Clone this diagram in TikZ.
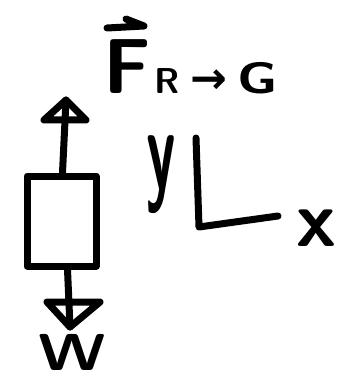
\documentclass[tikz,border=0pt]{standalone}
\usepackage{fontspec}
\newfontfamily\arrowfont{DejaVu Sans}
\begin{document}
\begin{tikzpicture}[x=1pt,y=-1pt,
  stroke/.style={line width=7pt,line cap=round,line join=round},
  hand/.style={inner sep=0pt,font=\sffamily\bfseries}]
\useasboundingbox (0,0) rectangle (341,382);
% body
\node[stroke,draw,minimum width=69pt,minimum height=90pt,inner sep=0pt] (box) at (61.5,221) {};
% upward force
\coordinate (uptip) at (66,100);
\draw[stroke] ([xshift=1pt]box.north) -- (uptip);
\draw[stroke] (uptip) -- ++(-22,20) -- ++(42,0) -- cycle;
% downward force
\coordinate (downtip) at (70,327);
\draw[stroke] ([xshift=6pt]box.south) -- (downtip);
\draw[stroke] (downtip) -- ++(-23,-25) -- ++(53,0) -- cycle;
% weight label
\node[hand] (w) at (72,352) {\fontsize{52}{52}\selectfont\scalebox{1.25}[1]{W}};
% force label
\node[hand,anchor=base west] (force) at (103,94)
  {{\fontsize{78}{78}\selectfont F}\hspace{4pt}{\fontsize{36}{36}\selectfont R}\hspace{10pt}{\fontsize{44}{44}\selectfont\arrowfont\bfseries →}\hspace{10pt}{\fontsize{44}{44}\selectfont\scalebox{1.25}[1]{G}}};
\coordinate (vecstart) at ([shift={(4,-66)}]force.base west);
\coordinate (vecend) at ([shift={(41,-68)}]force.base west);
\draw[stroke] (vecstart) -- (vecend) -- ++(-18,-7);
% axes
\coordinate (ytop) at (196,138);
\coordinate (orig) at (199,227);
\coordinate (xend) at (278,216);
\draw[stroke] (ytop) -- (orig) -- (xend);
\node[hand] (ylab) at (161,175) {\fontsize{84}{84}\selectfont\scalebox{0.7}[1.4]{y}};
\node[hand] (xlab) at (316,228) {\fontsize{80}{80}\selectfont x};
\end{tikzpicture}
\end{document}
